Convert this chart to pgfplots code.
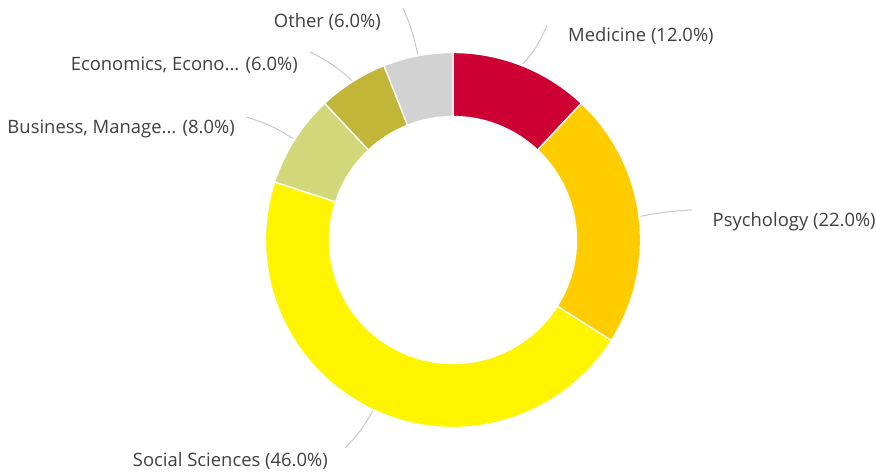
\documentclass[border=0pt]{standalone}
\usepackage{pgfplots}
\pgfplotsset{compat=1.18}
\usepackage{pgfplotstable}
\usepackage{fontspec}
\setmainfont{Open Sans}
\definecolor{c0}{RGB}{204,0,51}
\definecolor{c1}{RGB}{255,204,0}
\definecolor{c2}{RGB}{255,245,0}
\definecolor{c3}{RGB}{210,215,122}
\definecolor{c4}{RGB}{193,182,56}
\definecolor{c5}{RGB}{210,210,210}
\definecolor{txt}{RGB}{64,64,64}
\definecolor{lead}{RGB}{200,200,200}

\pgfplotstableread[col sep=semicolon]{
label;value
Medicine;12
Psychology;22
Social Sciences;46
Business, Manage...;8
Economics, Econo...;6
Other;6
}\shares

\newcommand\donutslice[2]{%
  \fill[#2, draw=white, line width=1.3bp]
    (axis cs:453,235) ++(\csname angS#1\endcsname:187.5bp)
    arc[start angle=\csname angS#1\endcsname, end angle=\csname angE#1\endcsname, radius=187.5bp]
    -- ++(\csname angE#1\endcsname:-64bp)
    arc[start angle=\csname angE#1\endcsname, end angle=\csname angS#1\endcsname, radius=123.5bp]
    -- cycle;}
\newcommand\plab[1]{\csname lab#1\endcsname{} (\pgfmathprintnumber[fixed,fixed zerofill,precision=1,assume math mode=true]{\csname val#1\endcsname}\%)}

\begin{document}
\begin{tikzpicture}
\def\cum{0}
\pgfplotsforeachungrouped \i in {0,...,5}{%
  \pgfplotstablegetelem{\i}{value}\of\shares
  \pgfmathsetmacro{\vv}{\pgfplotsretval}%
  \pgfmathsetmacro{\sA}{90-3.6*\cum}%
  \pgfmathsetmacro{\cum}{\cum+\vv}%
  \pgfmathsetmacro{\sB}{90-3.6*\cum}%
  \pgfmathsetmacro{\sM}{(\sA+\sB)/2}%
  \expandafter\xdef\csname angS\i\endcsname{\sA}%
  \expandafter\xdef\csname angE\i\endcsname{\sB}%
  \expandafter\xdef\csname angM\i\endcsname{\sM}%
  \expandafter\xdef\csname val\i\endcsname{\vv}%
  \pgfplotstablegetelem{\i}{label}\of\shares
  \expandafter\xdef\csname lab\i\endcsname{\pgfplotsretval}%
}
\begin{axis}[width=876bp, height=475bp, scale only axis,
  xmin=0, xmax=876, ymin=0, ymax=475, hide axis, clip=false]
\path (axis cs:0,0) rectangle (axis cs:876,475);
\donutslice{0}{c0}
\donutslice{1}{c1}
\donutslice{2}{c2}
\donutslice{3}{c3}
\donutslice{4}{c4}
\donutslice{5}{c5}
% leader lines
\draw[lead, line width=1bp] (axis cs:453,235) ++(\csname angM0\endcsname:189bp) to[bend right=10] (axis cs:547,450);
\draw[lead, line width=1bp] (axis cs:453,235) ++(\csname angM1\endcsname:189bp) to[bend left=4] (axis cs:692,265);
\draw[lead, line width=1bp] (axis cs:453,235) ++(\csname angM2\endcsname:189bp) to[bend left=8] (axis cs:345,27);
\draw[lead, line width=1bp] (axis cs:453,235) ++(\csname angM3\endcsname:189bp) to[bend right=8] (axis cs:246,358);
\draw[lead, line width=1bp] (axis cs:453,235) ++(\csname angM4\endcsname:189bp) to[bend right=8] (axis cs:310,423);
\draw[lead, line width=1bp] (axis cs:453,235) ++(\csname angM5\endcsname:189bp) to[bend right=6] (axis cs:403,467);
% labels
\tikzset{lbl/.style={inner sep=0pt, text=txt, font=\fontsize{18.5}{21}\selectfont}}
\node[lbl, anchor=base west] at (axis cs:568,433.3) {\plab{0}};
\node[lbl, anchor=base west] at (axis cs:712.5,248.3) {\plab{1}};
\node[lbl, anchor=base east] at (axis cs:328,9) {\plab{2}};
\node[lbl, anchor=base east] at (axis cs:235,341.7) {\plab{3}};
\node[lbl, anchor=base east] at (axis cs:298,404.3) {\plab{4}};
\node[lbl, anchor=base east] at (axis cs:381,447.3) {\plab{5}};
\end{axis}
\end{tikzpicture}
\end{document}
